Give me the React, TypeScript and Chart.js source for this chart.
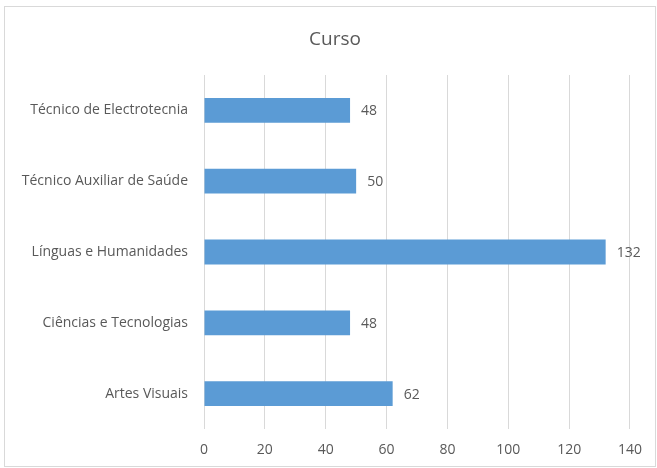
import React, { useEffect, useRef } from "react";
import { Chart, registerables } from "chart.js";

Chart.register(...registerables);

const categories = [
  "Técnico de Electrotecnia",
  "Técnico Auxiliar de Saúde",
  "Línguas e Humanidades",
  "Ciências e Tecnologias",
  "Artes Visuais",
];
const values = [48, 50, 132, 48, 62];
const titleText = "Curso";
const xMin = 0;
const xMax = 140;
const xStep = 20;

const FONT = "'Open Sans', 'Noto Sans', sans-serif";
const TEXT_COLOR = "#595959";

const valueLabels = {
  id: "valueLabels",
  afterDatasetsDraw(chart: any) {
    const ctx = chart.ctx;
    const meta = chart.getDatasetMeta(0);
    ctx.save();
    ctx.font = `14px ${FONT}`;
    ctx.fillStyle = TEXT_COLOR;
    ctx.textAlign = "left";
    ctx.textBaseline = "middle";
    meta.data.forEach((bar: any, i: number) => {
      ctx.fillText(String(chart.data.datasets[0].data[i]), bar.x + 11, bar.y + 1);
    });
    ctx.restore();
  },
};

const centeredTitle = {
  id: "centeredTitle",
  afterDraw(chart: any) {
    const ctx = chart.ctx;
    ctx.save();
    ctx.font = `19px ${FONT}`;
    ctx.fillStyle = TEXT_COLOR;
    ctx.textAlign = "center";
    ctx.textBaseline = "alphabetic";
    ctx.fillText(titleText, 330, 38);
    ctx.restore();
  },
};

export default function App() {
  const ref = useRef<HTMLCanvasElement | null>(null);
  useEffect(() => {
    if (!ref.current) return;
    const chart = new Chart(ref.current, {
      type: "bar",
      data: {
        labels: categories,
        datasets: [
          {
            data: values,
            backgroundColor: "#5b9bd5",
            borderWidth: 0,
            barPercentage: 0.35,
            categoryPercentage: 1,
          },
        ],
      },
      options: {
        indexAxis: "y",
        animation: false,
        responsive: true,
        maintainAspectRatio: false,
        layout: { padding: { left: 0, right: 24, top: 68, bottom: 0 } },
        plugins: {
          legend: { display: false },
          tooltip: { enabled: false },
          title: { display: false },
        },
        scales: {
          x: {
            min: xMin,
            max: xMax,
            ticks: {
              stepSize: xStep,
              color: TEXT_COLOR,
              font: { family: FONT, size: 14 },
              padding: 13,
            },
            grid: { color: "#d9d9d9", drawTicks: false },
            border: { display: false },
            afterFit: (s: any) => {
              s.height = 37;
            },
          },
          y: {
            ticks: {
              color: TEXT_COLOR,
              font: { family: FONT, size: 14 },
              padding: 16,
            },
            grid: { display: false, drawTicks: false },
            border: { display: false },
            afterFit: (s: any) => {
              s.width = 199;
            },
          },
        },
      },
      plugins: [valueLabels, centeredTitle],
    });
    return () => chart.destroy();
  }, []);

  return (
    <div
      style={{
        position: "absolute",
        left: 4,
        top: 6,
        width: 652,
        height: 461,
        boxSizing: "border-box",
        border: "1px solid #d9d9d9",
        background: "#fff",
      }}
    >
      <canvas ref={ref} />
    </div>
  );
}
